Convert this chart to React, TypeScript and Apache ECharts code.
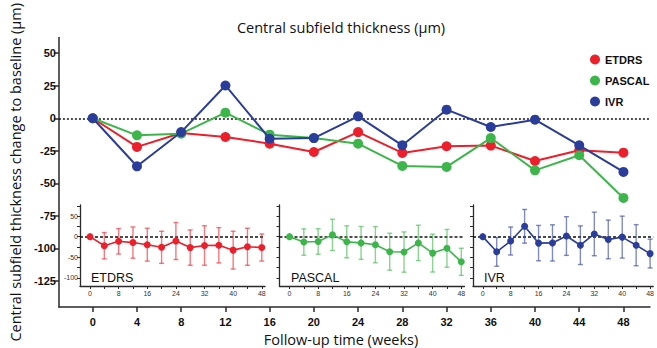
import React, { useEffect, useRef } from 'react';
import * as echarts from 'echarts';

// Follow-up weeks
const weeks = [0, 4, 8, 12, 16, 20, 24, 28, 32, 36, 40, 44, 48];
const mainTicks = [0, 4, 8, 12, 16, 20, 24, 28, 32, 36, 40, 44, 48];
const mainYTicks = [50, 25, 0, -25, -50, -75, -100, -125];
const insetXTicks = [0, 4, 8, 12, 16, 20, 24, 28, 32, 36, 40, 44, 48];
const insetXLabels = [0, 8, 16, 24, 32, 40, 48];
const insetYTicks = [75, 50, 25, 0, -25, -50, -75, -100];
const insetYLabels = [50, 0, -50, -100];

// Mean change to baseline (µm)
const etdrs = [0, -22, -11.3, -14.4, -19.5, -25.9, -10.6, -26.6, -21.5, -21, -32.8, -24.6, -26.4];
const pascal = [0, -13.1, -11.8, 4.3, -12.6, -15.2, -19.5, -36.6, -37.4, -15.2, -40, -28.4, -61.2];
const ivr = [0, -36.9, -10.6, 25.2, -15.7, -15.2, 1.5, -20.8, 6.6, -6.7, -1.1, -20.8, -41.2];

// Standard deviation (error bars in insets)
const etdrsSD = [0, 32, 31, 38, 40, 39, 45, 43, 48, 43, 46, 45, 33];
const pascalSD = [0, 32, 31, 38, 39, 40, 44, 45, 49, 43, 46, 46, 33];
const ivrSD = [0, 35, 34, 41, 43, 44, 47, 47, 53, 47, 51, 50, 35];

const groups = ['ETDRS', 'PASCAL', 'IVR'];
const colors = ['#ec1f2b', '#3cb64a', '#2b3d9a'];
const barColors = ['rgba(236,31,43,0.6)', 'rgba(60,182,74,0.6)', 'rgba(43,61,154,0.6)'];
const means = [etdrs, pascal, ivr];
const sds = [etdrsSD, pascalSD, ivrSD];

const AX = '#2a2a2a';
const SANS = 'Liberation Sans, Arial, sans-serif';
const TITLE_FONT = 'Open Sans, sans-serif';

function buildOption() {
  const insetLefts = [80, 279.5, 473];
  const grids: any[] = [{ left: 55, top: 37, right: 7, bottom: 41 }];
  insetLefts.forEach((l, i) => grids.push({ left: l, top: 205, width: i === 2 ? 184 : 185, height: 81 }));

  const xAxes: any[] = [
    {
      gridIndex: 0,
      type: 'value',
      min: -3.06,
      max: 50.4,
      splitLine: { show: false },
      axisLine: { show: true, onZero: false, lineStyle: { color: AX, width: 1.5 } },
      axisTick: { show: true, customValues: mainTicks, length: 5, lineStyle: { color: AX, width: 1.5 } },
      axisLabel: { customValues: mainTicks, fontFamily: SANS, fontWeight: 'bold', fontSize: 11, color: '#111', margin: 9 },
    },
  ];
  const yAxes: any[] = [
    {
      gridIndex: 0,
      type: 'value',
      min: -145,
      max: 62,
      splitLine: { show: false },
      axisLine: { show: true, onZero: false, lineStyle: { color: AX, width: 1.5 } },
      axisTick: { show: true, customValues: mainYTicks, length: 5, lineStyle: { color: AX, width: 1.5 } },
      axisLabel: { customValues: mainYTicks, fontFamily: SANS, fontWeight: 'bold', fontSize: 11, color: '#111', margin: 3 },
      name: 'Central subfield thickness change to baseline (µm)',
      nameLocation: 'middle',
      nameRotate: 90,
      nameGap: 34,
      nameTextStyle: { fontFamily: TITLE_FONT, fontSize: 14.5, color: '#111' },
    },
  ];
  for (let i = 0; i < 3; i++) {
    xAxes.push({
      gridIndex: i + 1,
      type: 'value',
      min: -2.8,
      max: 48.9,
      splitLine: { show: false },
      axisLine: { show: true, onZero: false, lineStyle: { color: AX, width: 1.3 } },
      axisTick: { show: true, customValues: insetXTicks, length: 3, lineStyle: { color: AX, width: 1 } },
      axisLabel: { customValues: insetXLabels, fontFamily: SANS, fontSize: 7, color: '#333', margin: 4 },
    });
    yAxes.push({
      gridIndex: i + 1,
      type: 'value',
      min: -120,
      max: 77,
      splitLine: { show: false },
      axisLine: { show: true, onZero: false, lineStyle: { color: AX, width: 1.3 } },
      axisTick: { show: true, customValues: insetYTicks, length: 3, lineStyle: { color: AX, width: 1 } },
      axisLabel: { show: i === 0, customValues: insetYLabels, fontFamily: SANS, fontSize: 7, color: '#333', margin: 2 },
    });
  }

  const series: any[] = [];
  // main series, drawing order: ETDRS, IVR, PASCAL
  [0, 2, 1].forEach((g) => {
    series.push({
      name: groups[g],
      type: 'line',
      xAxisIndex: 0,
      yAxisIndex: 0,
      data: weeks.map((w, k) => [w, means[g][k]]),
      symbol: 'circle',
      symbolSize: 10,
      lineStyle: { color: colors[g], width: 2 },
      itemStyle: { color: colors[g] },
      z: 3 + g,
      markLine:
        g === 0
          ? {
              silent: true,
              symbol: 'none',
              label: { show: false },
              lineStyle: { color: '#111', type: [2, 2], width: 1.5 },
              data: [{ yAxis: 0 }],
              z: 1,
            }
          : undefined,
    });
  });

  for (let g = 0; g < 3; g++) {
    const barColor = barColors[g];
    series.push({
      name: groups[g] + ' sd',
      type: 'custom',
      xAxisIndex: g + 1,
      yAxisIndex: g + 1,
      data: weeks.map((w, k) => [w, means[g][k], sds[g][k]]),
      renderItem: (params: any, api: any) => {
        const x = api.value(0);
        const m = api.value(1);
        const sd = api.value(2);
        if (!sd) return { type: 'group', children: [] };
        const top = api.coord([x, m + sd]);
        const bot = api.coord([x, m - sd]);
        const cw = 2.5;
        const st = { stroke: barColor, lineWidth: 1.4 };
        return {
          type: 'group',
          children: [
            { type: 'line', shape: { x1: top[0], y1: top[1], x2: bot[0], y2: bot[1] }, style: st },
            { type: 'line', shape: { x1: top[0] - cw, y1: top[1], x2: top[0] + cw, y2: top[1] }, style: st },
            { type: 'line', shape: { x1: bot[0] - cw, y1: bot[1], x2: bot[0] + cw, y2: bot[1] }, style: st },
          ],
        };
      },
      z: 2,
    });
    series.push({
      name: groups[g] + ' inset',
      type: 'line',
      xAxisIndex: g + 1,
      yAxisIndex: g + 1,
      data: weeks.map((w, k) => [w, means[g][k]]),
      symbol: 'circle',
      symbolSize: 7,
      lineStyle: { color: colors[g], width: 1.6 },
      itemStyle: { color: colors[g] },
      z: 4,
      markLine: {
        silent: true,
        symbol: 'none',
        label: { show: false },
        lineStyle: { color: '#111', type: [3, 2], width: 1.5 },
        data: [{ yAxis: 0 }],
        z: 1,
      },
    });
  }

  const labelXs = [91, 291, 484];
  const graphic: any[] = [
    {
      type: 'text',
      x: 341,
      y: 27,
      style: {
        text: 'Central subfield thickness (µm)',
        font: `14.5px ${TITLE_FONT}`,
        fill: '#111',
        textAlign: 'center',
        textVerticalAlign: 'middle',
      },
    },
    {
      type: 'text',
      x: 341,
      y: 339,
      style: {
        text: 'Follow-up time (weeks)',
        font: `14.5px ${TITLE_FONT}`,
        fill: '#111',
        textAlign: 'center',
        textVerticalAlign: 'middle',
      },
    },
  ];
  groups.forEach((g, i) => {
    graphic.push({
      type: 'text',
      x: labelXs[i],
      y: 278,
      z: 10,
      style: { text: g, font: `12.5px ${SANS}`, fill: '#111', textVerticalAlign: 'middle' },
    });
  });

  return {
    animation: false,
    backgroundColor: '#ffffff',
    grid: grids,
    xAxis: xAxes,
    yAxis: yAxes,
    legend: {
      data: groups,
      orient: 'vertical',
      left: 585,
      top: 49,
      icon: 'circle',
      itemWidth: 10,
      itemHeight: 10,
      itemGap: 10,
      textStyle: { fontFamily: SANS, fontWeight: 'bold', fontSize: 11, color: '#111' },
    },
    graphic,
    series,
  };
}

export default function App() {
  const ref = useRef<HTMLDivElement>(null);
  useEffect(() => {
    if (!ref.current) return;
    const chart = echarts.init(ref.current, null, { renderer: 'svg' });
    chart.setOption(buildOption() as any);
    return () => chart.dispose();
  }, []);
  return <div ref={ref} style={{ position: 'fixed', left: 0, top: 0, width: 657, height: 348 }} />;
}
